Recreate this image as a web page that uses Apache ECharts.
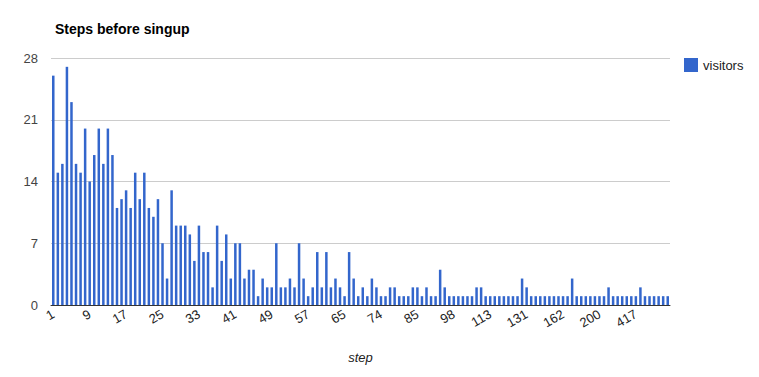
<!DOCTYPE html>
<html>
<head>
<meta charset="utf-8">
<script src="https://cdn.jsdelivr.net/npm/echarts@6/dist/echarts.min.js"></script>
<style>html,body{margin:0;padding:0;background:#fff;}#c{width:759px;height:377px;}</style>
</head>
<body>
<div id="c"></div>
<script>
const title = 'Steps before singup';
const seriesName = 'visitors';
const xAxisName = 'step';
const steps = [
  '1','2','3','4','5','6','7','8','9','10','11','12','13','14','15','16','17','18','19','20',
  '21','22','23','24','25','26','27','28','29','30','31','32','33','34','35','36','37','38','39','40',
  '41','42','43','44','45','46','47','48','49','50','51','52','53','54','55','56','57','58','59','60',
  '61','62','63','64','65',
  '66','67','68','69','70','71','73',
  '74','75','76','77','78','80','81','83',
  '85','86','87','88','90','92','94','96',
  '98','99','101','103','105','107','109','111',
  '113','114','116','119','122','124','127','129',
  '131','134','138','142','147','151','155','159',
  '162','166','171','176','181','186','190','195',
  '200','213','230','248','270','301','340','380',
  '417','450','490','523','570','612','690','812'
];
const visitors = [
  26,15,16,27,23,16,15,20,14,17,20,16,20,17,11,12,13,11,15,12,
  15,11,10,12,7,3,13,9,9,9,8,5,9,6,6,2,9,5,8,3,
  7,7,3,4,4,1,3,2,2,7,2,2,3,2,7,3,1,2,6,2,
  6,2,3,2,1,
  6,3,1,2,1,3,2,
  1,1,2,2,1,1,1,2,
  2,1,2,1,1,4,2,1,
  1,1,1,1,1,2,2,1,
  1,1,1,1,1,1,1,3,
  2,1,1,1,1,1,1,1,
  1,1,3,1,1,1,1,1,
  1,1,2,1,1,1,1,1,
  1,2,1,1,1,1,1,1,1
];
const yTicks = {min: 0, max: 28, interval: 7};

const chart = echarts.init(document.getElementById('c'), null, {renderer: 'svg'});
const font = 'Arial, "Liberation Sans", sans-serif';
chart.setOption({
  animation: false,
  textStyle: {fontFamily: font},
  title: {
    text: title, left: 50, top: 17,
    textStyle: {fontFamily: font, fontSize: 14, fontWeight: 'bold', color: '#000'}
  },
  legend: {
    data: [seriesName], left: 679, top: 53, orient: 'vertical',
    itemWidth: 14, itemHeight: 14, itemGap: 5,
    icon: 'rect',
    textStyle: {fontFamily: font, fontSize: 13, color: '#222'}
  },
  grid: {left: 51, right: 89, top: 58, bottom: 72},
  xAxis: {
    type: 'category', data: steps,
    name: xAxisName, nameLocation: 'middle', nameGap: 46,
    nameTextStyle: {fontFamily: font, fontSize: 13, fontStyle: 'italic', color: '#222'},
    axisLine: {lineStyle: {color: '#333', width: 1}},
    axisTick: {show: false},
    axisLabel: {interval: 7, rotate: 30, margin: 8, fontSize: 13, color: '#222', fontFamily: font}
  },
  yAxis: {
    type: 'value', min: yTicks.min, max: yTicks.max, interval: yTicks.interval,
    axisLine: {show: false}, axisTick: {show: false},
    axisLabel: {margin: 13, fontSize: 13, color: '#444', fontFamily: font},
    splitLine: {lineStyle: {color: '#ccc', width: 1}}
  },
  series: [{
    name: seriesName, type: 'bar', data: visitors,
    barWidth: '55%',
    itemStyle: {color: '#3366cc'}
  }]
});
</script>
</body>
</html>
